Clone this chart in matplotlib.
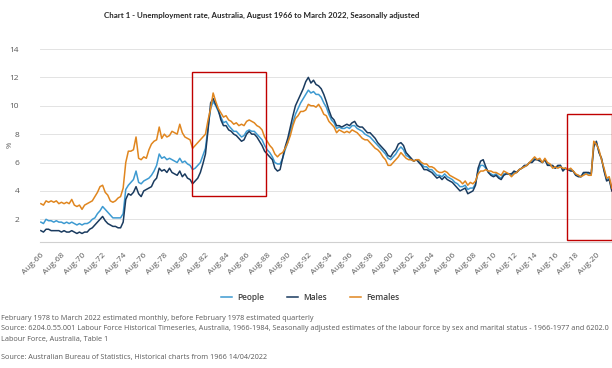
import numpy as np
import pandas as pd
import matplotlib
matplotlib.use("Agg")
import matplotlib.pyplot as plt
import matplotlib.dates as mdates
from matplotlib.patches import Rectangle

plt.rcParams['font.family'] = ['Open Sans', 'DejaVu Sans']

# quarterly readings (Feb, May, Aug, Nov), Aug 1966 .. Feb 2022
people = [
    1.8, 1.7,
    2.0, 1.9, 1.9, 1.8,  1.9, 1.8, 1.8, 1.7,  1.8, 1.7, 1.8, 1.7,  1.6, 1.7, 1.6, 1.7,
    1.7, 1.8, 2.0, 2.1,  2.4, 2.6, 2.9, 2.7,  2.5, 2.3, 2.1, 2.1,  2.1, 2.1, 2.4, 4.1,
    4.4, 4.6, 4.8, 5.4,  4.6, 4.5, 4.7, 4.8,  4.9, 5.1, 5.4, 5.8,  6.6, 6.3, 6.4, 6.2,
    6.3, 6.2, 6.1, 6.0,  6.3, 6.0, 6.1, 5.9,  5.8, 5.5, 5.6, 5.8,  6.0, 6.5, 7.0, 8.5,
    9.8, 10.3, 10.0, 9.6,  9.2, 8.8, 8.9, 8.6,  8.4, 8.2, 8.2, 8.0,  7.8, 7.9, 8.2, 8.3,
    8.2, 8.2, 8.0, 7.8,  7.6, 7.2, 6.9, 6.7,  6.4, 6.0, 5.9, 5.9,  6.3, 6.9, 7.4, 8.2,
    8.8, 9.4, 9.8, 10.2,  10.5, 10.8, 11.1, 10.9,  11.0, 10.8, 10.8, 10.6,  10.2, 9.9, 9.4, 9.0,
    8.8, 8.4, 8.5, 8.4,  8.4, 8.5, 8.4, 8.6,  8.6, 8.4, 8.3, 8.2,  8.0, 7.9, 7.8, 7.6,
    7.4, 7.2, 7.0, 6.8,  6.6, 6.3, 6.2, 6.4,  6.6, 6.9, 7.1, 6.9,  6.5, 6.4, 6.2, 6.1,
    6.2, 6.1, 5.9, 5.7,  5.7, 5.5, 5.5, 5.3,  5.1, 5.1, 5.0, 5.2,  5.0, 4.9, 4.8, 4.6,
    4.5, 4.3, 4.3, 4.4,  4.1, 4.2, 4.2, 4.5,  5.4, 5.8, 5.8, 5.6,  5.3, 5.2, 5.1, 5.2,
    5.0, 4.9, 5.2, 5.2,  5.2, 5.1, 5.3, 5.3,  5.5, 5.6, 5.7, 5.8,  6.0, 6.1, 6.3, 6.2,
    6.2, 6.0, 6.2, 5.9,  5.8, 5.7, 5.6, 5.7,  5.8, 5.5, 5.6, 5.5,  5.5, 5.4, 5.1, 5.1,
    5.0, 5.2, 5.3, 5.2,  5.2, 7.3, 7.4, 6.8,  6.2, 5.5, 4.8, 4.9,
    4.1,
]
males = [
    1.2, 1.1,
    1.3, 1.3, 1.2, 1.2,  1.2, 1.2, 1.1, 1.2,  1.1, 1.1, 1.2, 1.1,  1.0, 1.1, 1.0, 1.1,
    1.1, 1.3, 1.4, 1.6,  1.8, 2.0, 2.2, 1.9,  1.7, 1.6, 1.5, 1.5,  1.4, 1.4, 1.8, 3.4,
    3.8, 3.7, 3.9, 4.3,  3.8, 3.6, 4.0, 4.1,  4.2, 4.3, 4.7, 4.9,  5.6, 5.4, 5.5, 5.3,
    5.6, 5.3, 5.2, 5.1,  5.4, 5.0, 5.2, 4.9,  4.8, 4.5, 4.7, 4.9,  5.3, 5.9, 6.6, 8.3,
    10.2, 10.5, 10.1, 9.7,  9.0, 8.6, 8.6, 8.3,  8.2, 8.0, 7.9, 7.7,  7.5, 7.6, 8.0, 8.2,
    8.0, 8.0, 7.8, 7.5,  7.2, 6.8, 6.6, 6.4,  6.2, 5.6, 5.4, 5.5,  6.3, 7.1, 7.7, 8.5,
    9.3, 10.0, 10.4, 10.8,  11.2, 11.7, 12.0, 11.6,  11.8, 11.5, 11.4, 11.2,  10.8, 10.3, 9.7, 9.2,
    9.0, 8.6, 8.6, 8.5,  8.6, 8.7, 8.6, 8.8,  8.9, 8.6, 8.5, 8.5,  8.3, 8.1, 8.1, 7.9,
    7.7, 7.4, 7.2, 7.0,  6.8, 6.5, 6.4, 6.7,  6.9, 7.3, 7.4, 7.2,  6.7, 6.5, 6.3, 6.1,
    6.2, 6.0, 5.8, 5.5,  5.5, 5.4, 5.3, 5.1,  4.9, 5.0, 4.8, 5.0,  4.8, 4.7, 4.6, 4.4,
    4.2, 4.0, 4.1, 4.2,  3.8, 3.9, 4.0, 4.4,  5.6, 6.1, 6.2, 5.7,  5.3, 5.1, 5.0, 5.1,
    4.9, 4.8, 5.1, 5.2,  5.2, 5.2, 5.4, 5.3,  5.5, 5.6, 5.8, 5.8,  6.0, 6.0, 6.2, 6.2,
    6.1, 6.0, 6.2, 5.8,  5.8, 5.8, 5.6, 5.8,  5.8, 5.4, 5.6, 5.5,  5.4, 5.4, 5.1, 5.0,
    5.0, 5.3, 5.3, 5.3,  5.2, 7.1, 7.5, 6.7,  6.3, 5.4, 4.7, 4.8,
    4.0,
]
females = [
    3.1, 3.0,
    3.3, 3.2, 3.3, 3.2,  3.3, 3.1, 3.2, 3.1,  3.2, 3.1, 3.4, 3.0,  2.9, 3.0, 2.7, 3.0,
    3.1, 3.2, 3.3, 3.6,  3.9, 4.3, 4.4, 3.9,  3.7, 3.3, 3.2, 3.3,  3.5, 3.6, 4.2, 6.0,
    6.8, 6.8, 6.9, 7.8,  6.3, 6.2, 6.4, 6.3,  6.9, 7.3, 7.5, 7.6,  8.5, 7.7, 8.0, 7.8,
    7.9, 8.2, 8.1, 8.0,  8.7, 8.1, 7.8, 7.7,  7.6, 7.0, 7.2, 7.4,  7.6, 7.8, 8.0, 9.0,
    9.8, 10.9, 10.3, 9.8,  9.5, 9.2, 9.3, 9.0,  8.9, 8.7, 8.8, 8.6,  8.7, 8.6, 8.9, 9.0,
    8.9, 8.8, 8.6, 8.5,  8.3, 7.8, 7.5, 7.2,  7.0, 6.6, 6.4, 6.6,  6.7, 7.0, 7.4, 7.9,
    8.6, 9.1, 9.3, 9.6,  9.6, 9.7, 10.1, 10.0,  10.0, 9.9, 10.1, 9.8,  9.4, 9.3, 8.9, 8.7,
    8.5, 8.1, 8.3, 8.2,  8.1, 8.2, 8.1, 8.3,  8.2, 8.1, 7.9, 7.7,  7.6, 7.6, 7.4, 7.2,
    7.0, 6.9, 6.7, 6.4,  6.2, 5.8, 5.8, 6.0,  6.2, 6.4, 6.7, 6.5,  6.3, 6.2, 6.2, 6.1,
    6.2, 6.2, 6.0, 5.9,  5.9, 5.7, 5.7, 5.6,  5.4, 5.3, 5.3, 5.4,  5.3, 5.1, 5.0, 4.9,
    4.8, 4.7, 4.5, 4.7,  4.4, 4.6, 4.5, 4.7,  5.2, 5.4, 5.4, 5.5,  5.4, 5.4, 5.3, 5.3,
    5.2, 5.1, 5.4, 5.3,  5.2, 5.0, 5.2, 5.3,  5.5, 5.6, 5.7, 5.8,  6.0, 6.2, 6.4, 6.2,
    6.3, 6.0, 6.3, 6.0,  5.9, 5.6, 5.7, 5.6,  5.7, 5.6, 5.6, 5.5,  5.6, 5.4, 5.2, 5.1,
    5.0, 5.1, 5.2, 5.1,  5.1, 7.5, 7.3, 6.9,  6.2, 5.6, 4.9, 5.0,
    4.2,
]
dates = pd.date_range('1966-08-01', periods=len(people), freq='3MS')

tick_dates = pd.date_range('1966-08-01', '2020-08-01', freq='24MS')
tick_labels = [d.strftime('%b-%y') for d in tick_dates]

# highlighted periods (red boxes)
boxes = [(('1981-04-01', '1988-07-01'), (3.65, 12.4)),
         (('2017-10-01', '2022-02-10'), (0.55, 9.4))]

title = 'Chart 1 - Unemployment rate, Australia, August 1966 to March 2022, Seasonally adjusted'
notes = [
    'February 1978 to March 2022 estimated monthly, before February 1978 estimated quarterly',
    'Source: 6204.0.55.001 Labour Force Historical Timeseries, Australia, 1966-1984, Seasonally adjusted estimates of the labour force by sex and marital status - 1966-1977 and 6202.0',
    'Labour Force, Australia, Table 1',
    'Source: Australian Bureau of Statistics, Historical charts from 1966 14/04/2022',
]

c_people = '#3d9ad1'
c_males = '#1a3b5f'
c_females = '#e0861f'
grey = '#595959'

fig = plt.figure(figsize=(6.12, 3.68), dpi=100)
ax = fig.add_axes([40/612, 126/368, 573/612, 193/368])

ax.plot(dates, people, color=c_people, lw=1.1, label='People')
ax.plot(dates, males, color=c_males, lw=1.1, label='Males')
ax.plot(dates, females, color=c_females, lw=1.1, label='Females')

for (x0, x1), (y0, y1) in boxes:
    a = mdates.date2num(pd.Timestamp(x0))
    b = mdates.date2num(pd.Timestamp(x1))
    ax.add_patch(Rectangle((a, y0), b - a, y1 - y0, fill=False,
                           edgecolor='#c00000', lw=1.0, zorder=5, clip_on=False))

ax.set_ylim(0.4, 14)
ax.set_yticks([2, 4, 6, 8, 10, 12, 14])
ax.set_xlim(pd.Timestamp('1966-07-01'), pd.Timestamp('2022-03-15'))
ax.set_xticks(tick_dates)
ax.set_xticklabels(tick_labels, rotation=45, ha='right', rotation_mode='anchor')

ax.grid(axis='y', color='#e3e3e3', lw=0.7)
ax.set_axisbelow(True)
for s in ['top', 'right', 'left']:
    ax.spines[s].set_visible(False)
ax.spines['bottom'].set_color('#d0d0d0')
ax.spines['bottom'].set_linewidth(0.8)
ax.tick_params(axis='y', length=0, pad=15, labelsize=6, labelcolor=grey)
ax.tick_params(axis='x', length=0, pad=7, labelsize=6, labelcolor=grey)

fig.text(10/612, 1 - 145/368, '%', rotation=90, fontsize=5.5, color=grey,
         ha='center', va='center')
fig.text(262/612, 1 - 15/368, title, fontsize=5.7, fontweight='bold',
         color='#262626', ha='center', va='center', family=['Lato', 'DejaVu Sans'])

fig.legend(loc='center', bbox_to_anchor=(310/612, 1 - 297/368), ncol=3,
           frameon=False, handlelength=1.3, handletextpad=0.6,
           columnspacing=2.8, labelcolor='#404040',
           prop={'weight': 'semibold', 'size': 6})

ys = [318, 329, 340, 357]
for t, y in zip(notes, ys):
    fig.text(1/612, 1 - y/368, t, fontsize=5.2, color=grey, ha='left', va='center')

fig.savefig('out.png', dpi=100)
